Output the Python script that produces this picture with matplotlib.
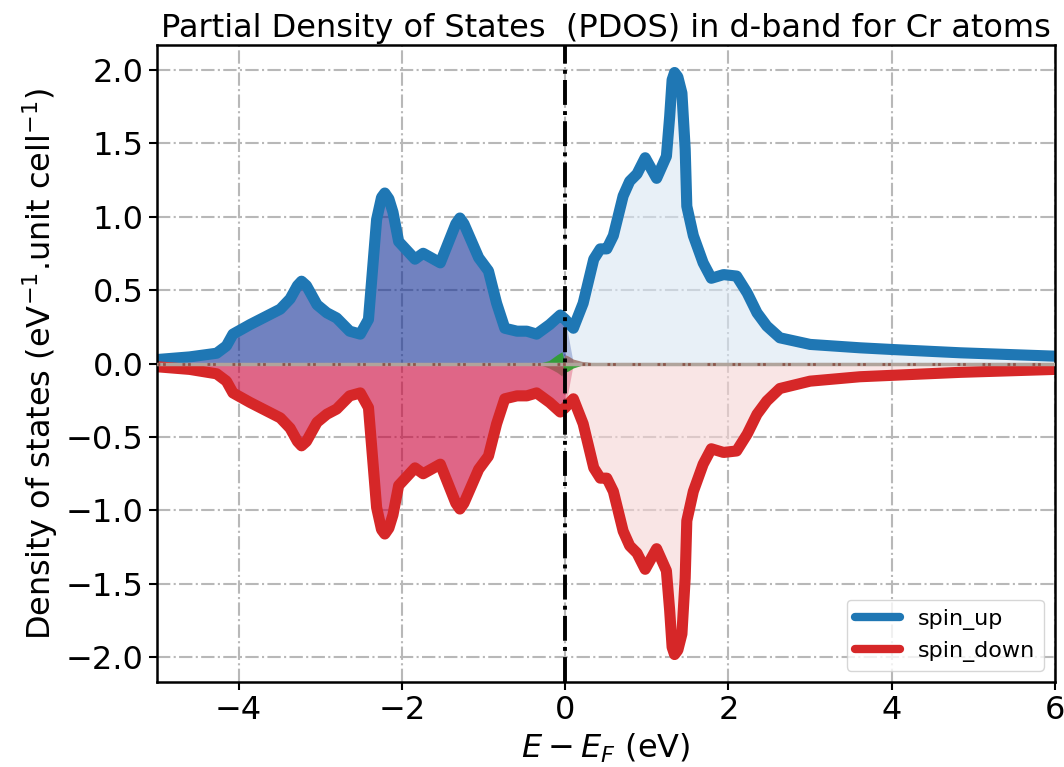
import matplotlib
matplotlib.use("Agg")
import matplotlib.pyplot as plt
import numpy as np

# Energy grid (eV, relative to E_F) and d-band PDOS
energy = [-5.0, -4.6, -4.27, -4.15, -4.07, -3.86, -3.49, -3.37, -3.28, -3.23,
          -3.17, -3.04, -2.92, -2.80, -2.64, -2.51, -2.41, -2.31, -2.25, -2.21,
          -2.16, -2.11, -2.04, -1.84, -1.74, -1.53, -1.34, -1.29, -1.24, -1.06,
          -0.94, -0.84, -0.74, -0.59, -0.47, -0.35, -0.19, -0.06, 0.0, 0.10,
          0.22, 0.35, 0.43, 0.51, 0.59, 0.71, 0.79, 0.88, 0.98, 1.12,
          1.24, 1.28, 1.31, 1.34, 1.38, 1.43, 1.47, 1.49, 1.57, 1.69,
          1.79, 1.94, 2.10, 2.23, 2.35, 2.47, 2.63, 3.00, 3.61, 4.02,
          4.84, 6.0]
spin_up = [0.027, 0.045, 0.07, 0.12, 0.20, 0.265, 0.37, 0.44, 0.53, 0.56,
           0.53, 0.40, 0.345, 0.31, 0.22, 0.20, 0.30, 0.98, 1.13, 1.16,
           1.12, 1.03, 0.83, 0.71, 0.75, 0.685, 0.95, 0.99, 0.95, 0.72,
           0.63, 0.41, 0.24, 0.22, 0.22, 0.20, 0.265, 0.33, 0.30, 0.24,
           0.41, 0.71, 0.78, 0.78, 0.87, 1.14, 1.24, 1.29, 1.40, 1.26,
           1.41, 1.68, 1.93, 1.98, 1.95, 1.84, 1.46, 1.07, 0.87, 0.685,
           0.58, 0.605, 0.595, 0.48, 0.345, 0.255, 0.175, 0.13, 0.107, 0.095,
           0.073, 0.05]
spin_down = [-0.022, -0.04, -0.07, -0.12, -0.20, -0.265, -0.37, -0.44, -0.53, -0.56,
             -0.53, -0.40, -0.345, -0.31, -0.22, -0.20, -0.30, -0.98, -1.13, -1.16,
             -1.12, -1.03, -0.83, -0.71, -0.75, -0.685, -0.95, -0.99, -0.95, -0.72,
             -0.63, -0.41, -0.24, -0.22, -0.22, -0.20, -0.265, -0.33, -0.30, -0.24,
             -0.41, -0.71, -0.78, -0.78, -0.87, -1.14, -1.24, -1.29, -1.40, -1.26,
             -1.41, -1.68, -1.93, -1.98, -1.95, -1.84, -1.46, -1.07, -0.87, -0.685,
             -0.58, -0.605, -0.595, -0.48, -0.345, -0.255, -0.17, -0.12, -0.09, -0.08,
             -0.06, -0.04]

# small contributions near E_F (other orbitals)
e_small = [-0.45, -0.30, -0.20, -0.10, -0.04, 0.0, 0.04, 0.10, 0.20, 0.35, 0.55]
green_up = [0.0, 0.005, 0.02, 0.06, 0.08, 0.0, 0.0, 0.0, 0.0, 0.0, 0.0]
brown_up = [0.0, 0.0, 0.0, 0.0, 0.0, 0.06, 0.05, 0.03, 0.015, 0.005, 0.0]
brown_dn = [0.0, -0.01, -0.03, -0.06, -0.085, 0.0, 0.0, 0.0, 0.0, 0.0, 0.0]
green_dn = [0.0, 0.0, 0.0, 0.0, 0.0, -0.06, -0.05, -0.03, -0.012, -0.004, 0.0]

xticks = [-4, -2, 0, 2, 4, 6]
yticks = [-2.0, -1.5, -1.0, -0.5, 0.0, 0.5, 1.0, 1.5, 2.0]

E = np.array(energy)
up = np.array(spin_up)
dn = np.array(spin_down)
es = np.array(e_small)

fig = plt.figure(figsize=(10.64, 7.67), dpi=100)
ax = fig.add_axes([0.1476, 0.1108, 0.8439, 0.8305])
ax.set_axisbelow(True)
ax.grid(True, color='#b8b8b8', linestyle='-.', linewidth=1.5)

occ = E <= 0
unocc = E >= 0
ax.fill_between(E, 0, up, where=occ, color=(18/255, 47/255, 150/255), alpha=0.6, lw=0, interpolate=True)
ax.fill_between(E, 0, up, where=unocc, color=(217/255, 230/255, 243/255), alpha=0.6, lw=0, interpolate=True)
ax.fill_between(E, 0, dn, where=occ, color=(203/255, 0, 55/255), alpha=0.6, lw=0, interpolate=True)
ax.fill_between(E, 0, dn, where=unocc, color=(245/255, 212/255, 212/255), alpha=0.6, lw=0, interpolate=True)

ax.fill_between(es, 0, np.array(green_up), color='tab:green', alpha=0.9, lw=0)
ax.fill_between(es, 0, np.array(brown_up), color='tab:brown', alpha=0.7, lw=0)
ax.fill_between(es, 0, np.array(brown_dn), color='tab:brown', alpha=0.7, lw=0)
ax.fill_between(es, 0, np.array(green_dn), color='tab:green', alpha=0.9, lw=0)

ax.plot(E, up, color='#1f77b4', lw=8, label='spin_up',
        solid_joinstyle='round', solid_capstyle='round')
ax.plot(E, dn, color='#d62728', lw=8, label='spin_down',
        solid_joinstyle='round', solid_capstyle='round')

ax.axhline(0, color='#b0a49c', lw=2.5, zorder=3)
ax.axhline(0, color='#8c564b', lw=2, ls=(0, (1, 1, 1, 6)), zorder=3)
ax.axvline(0, color='black', lw=2.8, ls='-.', zorder=4)

ax.set_xlim(-5, 6)
ax.set_ylim(-2.167, 2.167)
ax.set_xticks(xticks)
ax.set_yticks(yticks)
ax.tick_params(labelsize=23, width=1.5, length=6)
for s in ax.spines.values():
    s.set_linewidth(1.8)

ax.set_title('Partial Density of States  (PDOS) in d-band for Cr atoms', fontsize=23)
ax.set_xlabel('$E - E_F$ (eV)', fontsize=23)
ax.set_ylabel('Density of states (eV$^{-1}$.unit cell$^{-1}$)', fontsize=23)
leg = ax.legend(loc='lower right', fontsize=16, handlelength=2.0)
for h in leg.get_lines():
    h.set_linewidth(6)

fig.savefig('out.png', dpi=100)
